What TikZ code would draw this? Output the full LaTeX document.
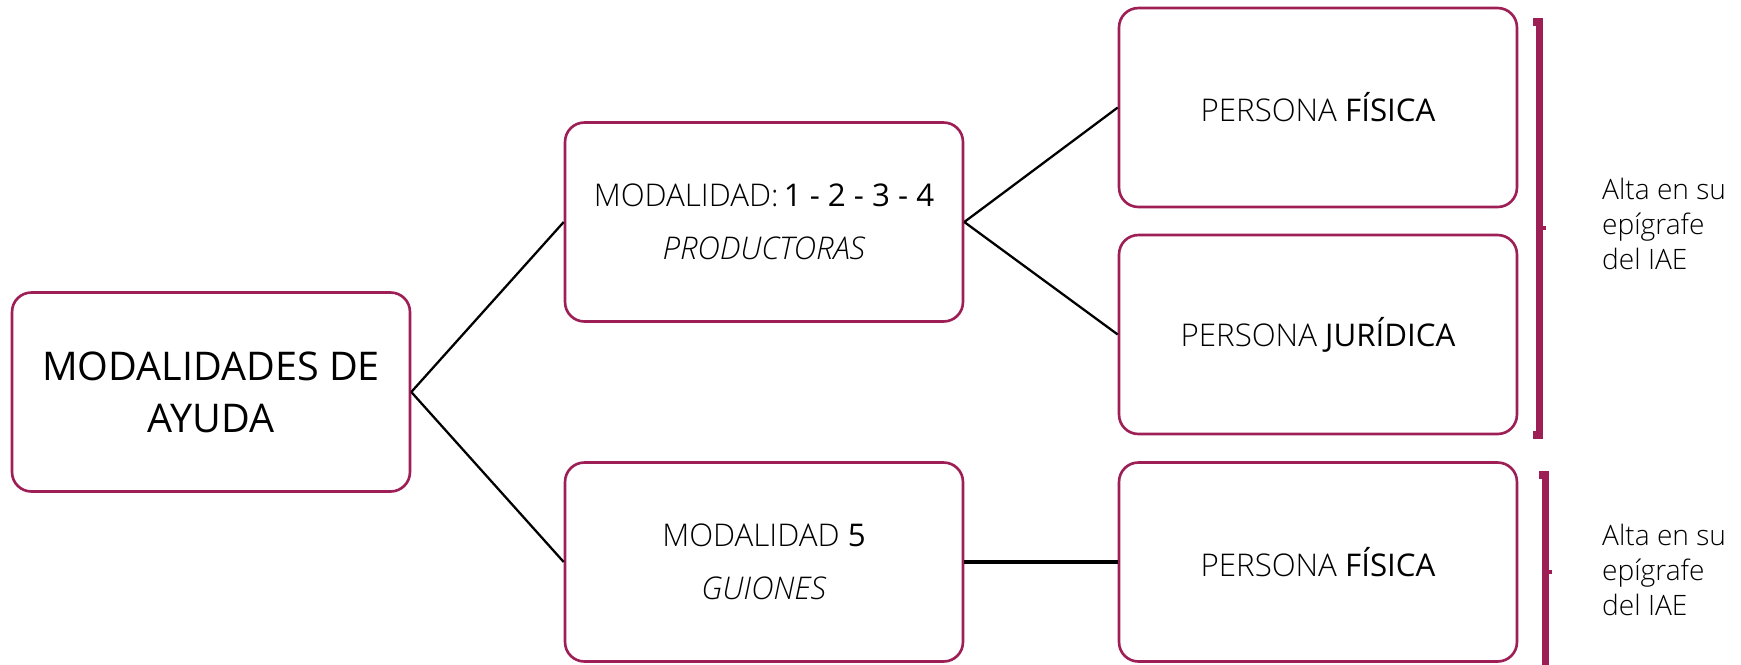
\documentclass[tikz,border=0pt]{standalone}
\usepackage{fontspec}
\setmainfont{Open Sans Light}
\newfontfamily\regfont{Open Sans}
\definecolor{vino}{RGB}{158,31,86}
\newcommand{\enf}[1]{{\regfont #1}}

\tikzset{
  caja/.style={draw=vino, line width=1.5pt, rounded corners=11pt,
    minimum width=7.96cm, minimum height=3.98cm, align=center},
  rama/.style={line width=1.3pt},
  llave/.style={vino, line width=4pt},
}

\begin{document}
\begin{tikzpicture}[x=0.02cm,y=-0.02cm]
            \useasboundingbox (0,0) rectangle (1741,664);

            \node[caja, font=\regfont\fontsize{22.5}{29.6}\selectfont] (ayuda) at (211,392) {MODALIDADES DE\\AYUDA};
            \node[caja, font=\fontsize{17.8}{30}\selectfont] (prod) at (764,222) {MODALIDAD:\,\enf{1 - 2 - 3 - 4}\\\textit{PRODUCTORAS}};
            \node[caja, font=\fontsize{17.8}{30}\selectfont] (guion) at (764,562) {MODALIDAD \enf{5}\\\textit{GUIONES}};
            \node[caja, font=\fontsize{17.8}{30}\selectfont] (fis1) at (1318,107.5) {PERSONA \enf{FÍSICA}};
            \node[caja, font=\fontsize{17.8}{30}\selectfont] (jur) at (1318,334.5) {PERSONA \enf{JURÍDICA}};
            \node[caja, font=\fontsize{17.8}{30}\selectfont] (fis2) at (1318,562) {PERSONA \enf{FÍSICA}};

            \node[anchor=west, align=left, font=\fontsize{16}{20}\selectfont] (iae1) at (1596,224) {Alta en su\\epígrafe\\del IAE};
            \node[anchor=west, align=left, font=\fontsize{16}{20}\selectfont] (iae2) at (1596,570) {Alta en su\\epígrafe\\del IAE};

            \draw[rama] (ayuda.east) -- (prod.west);
            \draw[rama] (ayuda.east) -- (guion.west);
            \draw[rama] (prod.east) -- (fis1.west);
            \draw[rama] (prod.east) -- (jur.west);
            \draw[rama, line width=2pt] (guion.east) -- (fis2.west);

            % llaves
            \draw[llave] (1533,22) -- (1539,22) -- (1539,435) -- (1533,435);
            \draw[llave, line width=2pt] (1539,228) -- (1546,228);
            \draw[llave] (1539,475) -- (1545,475) -- (1545,680);
            \draw[llave, line width=2pt] (1545,572) -- (1552,572);
        \end{tikzpicture}
\end{document}
